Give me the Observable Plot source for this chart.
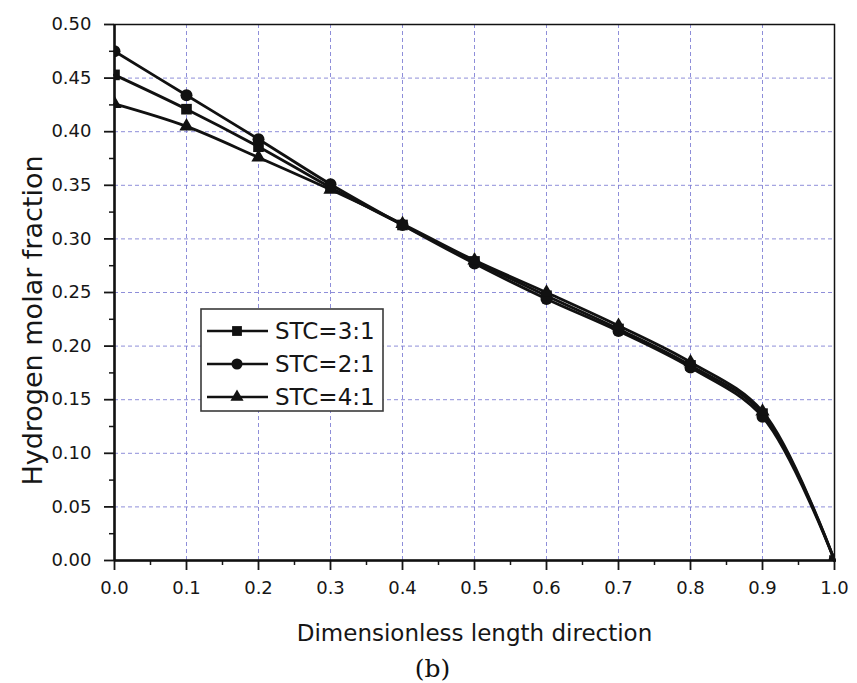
<!DOCTYPE html>
<html>
<head>
<meta charset="utf-8">
<script src="https://cdn.jsdelivr.net/npm/d3@7"></script>
<script src="https://cdn.jsdelivr.net/npm/@observablehq/plot@0.6"></script>
<style>
  html, body { margin: 0; padding: 0; background: #ffffff; }
  #chart { width: 857px; height: 683px; }
</style>
</head>
<body>
<div id="chart"></div>
<script>
// Positions along the reactor (dimensionless length)
const positions = [0.0, 0.1, 0.2, 0.3, 0.4, 0.5, 0.6, 0.7, 0.8, 0.9, 1.0];

// Hydrogen molar fraction for each steam-to-carbon ratio
const stc31 = [0.453, 0.421, 0.386, 0.348, 0.313, 0.279, 0.247, 0.216, 0.182, 0.137, 0.000];
const stc21 = [0.475, 0.434, 0.393, 0.351, 0.313, 0.277, 0.244, 0.214, 0.180, 0.134, 0.000];
const stc41 = [0.426, 0.405, 0.376, 0.346, 0.314, 0.280, 0.250, 0.219, 0.185, 0.139, 0.000];

const seriesNames = ["STC=3:1", "STC=2:1", "STC=4:1"];
const seriesSymbols = ["square", "circle", "triangle"];
const symbolRadius = [6.0, 6.0, 5.3];

// Axis ticks
const xTicks = [0.0, 0.1, 0.2, 0.3, 0.4, 0.5, 0.6, 0.7, 0.8, 0.9, 1.0];
const xMinor = [0.05, 0.15, 0.25, 0.35, 0.45, 0.55, 0.65, 0.75, 0.85, 0.95];
const yTicks = [0.00, 0.05, 0.10, 0.15, 0.20, 0.25, 0.30, 0.35, 0.40, 0.45, 0.50];
const yMinor = [0.025, 0.075, 0.125, 0.175, 0.225, 0.275, 0.325, 0.375, 0.425, 0.475];
const xGrid = [0.1, 0.2, 0.3, 0.4, 0.5, 0.6, 0.7, 0.8, 0.9];
const yGrid = [0.05, 0.10, 0.15, 0.20, 0.25, 0.30, 0.35, 0.40, 0.45];

const xTitle = "Dimensionless length direction";
const yTitle = "Hydrogen molar fraction";
const caption = "(b)";

// Long-format table built from the series arrays
const seriesValues = [stc31, stc21, stc41];
const rows = seriesValues.flatMap((vals, i) =>
  vals.map((v, j) => ({series: seriesNames[i], x: positions[j], y: v}))
);
const bySeries = name => rows.filter(d => d.series === name);

const gridStyle = {stroke: "#7a7ad2", strokeOpacity: 0.85, strokeWidth: 1, strokeDasharray: "4,3"};

const plot = Plot.plot({
  width: 857,
  height: 683,
  marginLeft: 114,
  marginRight: 23,
  marginTop: 24,
  marginBottom: 123,
  style: {fontFamily: "DejaVu Sans, sans-serif", fontSize: "18px", color: "#161616", background: "#ffffff"},
  x: {domain: [0, 1]},
  y: {domain: [0, 0.5]},
  marks: [
    Plot.gridX(xGrid, gridStyle),
    Plot.gridY(yGrid, gridStyle),
    Plot.frame({stroke: "#111", strokeWidth: 1.5}),
    Plot.axisX(xTicks, {tickSize: 10, tickPadding: 11, strokeWidth: 1.8, tickFormat: d3.format(".1f"), label: null, fontSize: 18}),
    Plot.axisX(xMinor, {tickSize: 5, strokeWidth: 1.5, text: null, label: null}),
    Plot.axisY(yTicks, {tickSize: 10, tickPadding: 13, strokeWidth: 1.8, tickFormat: d3.format(".2f"), label: null, fontSize: 18}),
    Plot.axisY(yMinor, {tickSize: 5, strokeWidth: 1.5, text: null, label: null}),
    Plot.ruleX([0], {stroke: "#111", strokeWidth: 2.5}),
    Plot.ruleY([0], {stroke: "#111", strokeWidth: 2.5}),
    Plot.line(rows, {x: "x", y: "y", z: "series", curve: "catmull-rom", stroke: "#111", strokeWidth: 2.8}),
    ...seriesNames.map((name, i) =>
      Plot.dot(bySeries(name), {x: "x", y: "y", symbol: () => seriesSymbols[i], r: symbolRadius[i], fill: "#111", clip: "frame"})
    ),
    Plot.text([xTitle], {frameAnchor: "bottom", lineAnchor: "middle", dy: 73, fontSize: 23, fill: "#161616"}),
    Plot.text([yTitle], {frameAnchor: "left", textAnchor: "middle", lineAnchor: "middle", rotate: -90, dx: -81, dy: 28, fontSize: 27, fill: "#161616"}),
    Plot.text([caption], {frameAnchor: "bottom", lineAnchor: "middle", dx: -42, dy: 108, fontSize: 25, fontFamily: "DejaVu Serif, serif", fill: "#111"})
  ]
});

// Legend box inside the plotting area
const svg = d3.select(plot);
const legend = svg.append("g").attr("transform", "translate(201,309)");
legend.append("rect")
  .attr("width", 182).attr("height", 102)
  .attr("fill", "#ffffff").attr("stroke", "#3a3a3a").attr("stroke-width", 1.6);
const symbolTypes = {square: d3.symbolSquare, circle: d3.symbolCircle, triangle: d3.symbolTriangle};
seriesNames.forEach((name, i) => {
  const row = legend.append("g").attr("transform", `translate(0,${22 + i * 33})`);
  row.append("line").attr("x1", 6).attr("x2", 67).attr("y1", 0).attr("y2", 0)
    .attr("stroke", "#111").attr("stroke-width", 2.6);
  row.append("path")
    .attr("transform", "translate(36,0)")
    .attr("d", d3.symbol(symbolTypes[seriesSymbols[i]], Math.PI * symbolRadius[i] * symbolRadius[i] * 0.85)())
    .attr("fill", "#111");
  row.append("text").attr("x", 74).attr("y", 0).attr("dy", "0.36em")
    .style("font-size", "23px").style("text-anchor", "start").attr("fill", "#161616").text(name);
});

document.getElementById("chart").appendChild(plot);
</script>
</body>
</html>
